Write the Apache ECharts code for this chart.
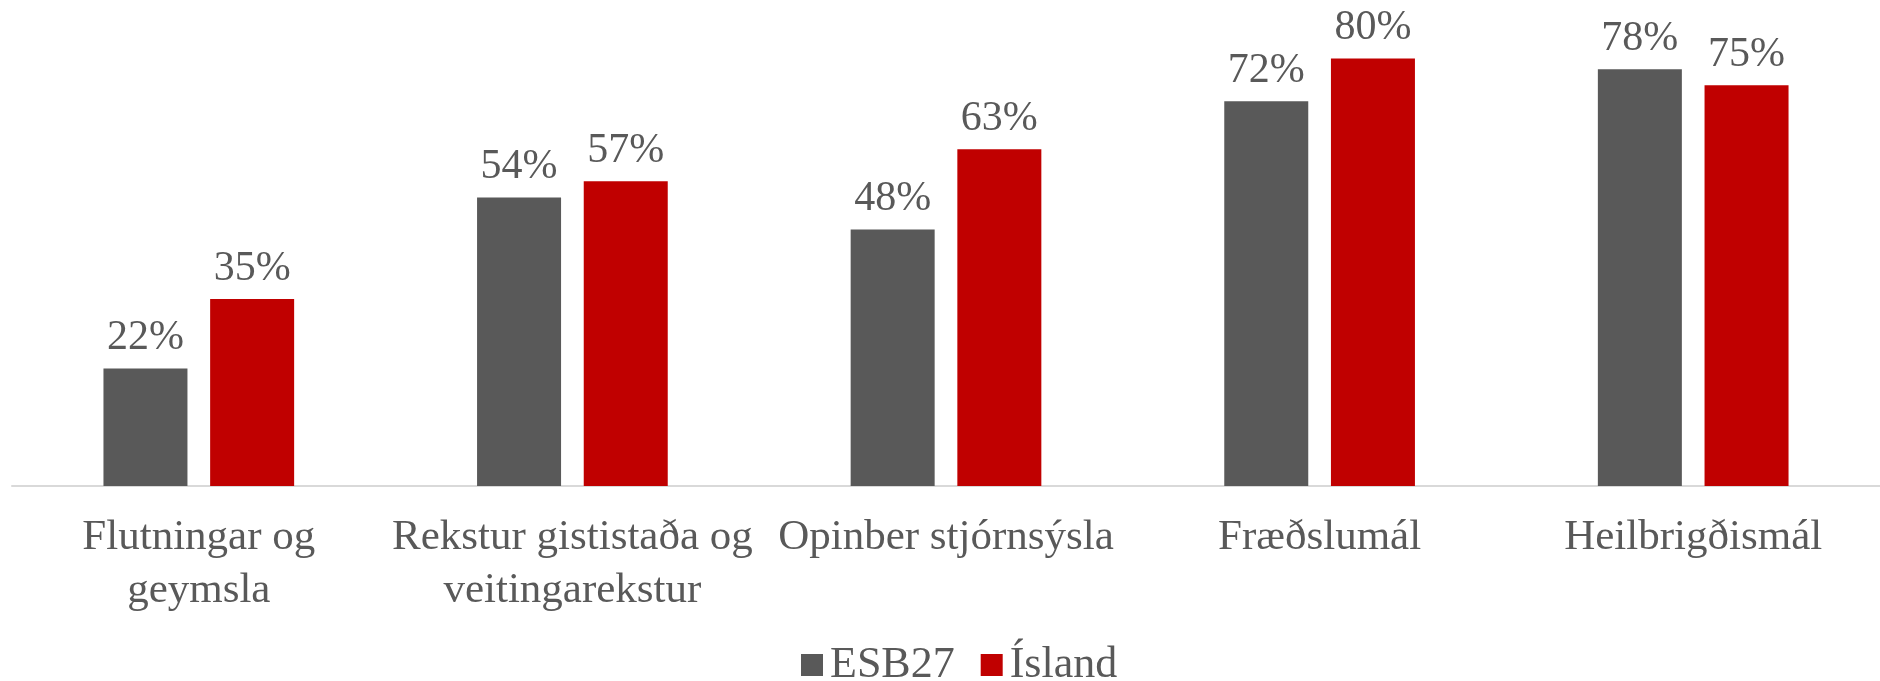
<!DOCTYPE html>
<html>
<head>
<meta charset="utf-8">
<script src="https://cdn.jsdelivr.net/npm/echarts@6/dist/echarts.min.js"></script>
<style>
  html, body { margin: 0; padding: 0; background: #fff; }
  #barChart { width: 1880px; height: 681px; }
</style>
</head>
<body>
<div id="barChart"></div>
<script>
var categories = ['Flutningar og\ngeymsla', 'Rekstur gististaða og\nveitingarekstur', 'Opinber stjórnsýsla', 'Fræðslumál', 'Heilbrigðismál'];
var seriesNames = ['ESB27', 'Ísland'];
var esbValues = [22, 54, 48, 72, 78];
var islandValues = [35, 57, 63, 80, 75];

var barChart = echarts.init(document.getElementById('barChart'));

var textColor = '#595959';
var fontFamily = '"Liberation Serif", "Times New Roman", serif';

var labelStyle = {
	show: true,
	position: 'top',
	distance: 9,
	formatter: '{c}%',
	color: textColor,
	fontFamily: fontFamily,
	fontSize: 42
};

var option = {
	animation: false,
	color: ['#595959', '#C00000'],
	grid: {
		left: 12,
		right: 0,
		top: 5,
		bottom: 195
	},
	legend: {
		data: seriesNames,
		left: 796,
		top: 638,
		icon: 'rect',
		itemWidth: 22,
		itemHeight: 22,
		itemGap: 26,
		textStyle: {
			color: textColor,
			fontFamily: fontFamily,
			fontSize: 44,
			padding: [0, 0, 0, 2]
		}
	},
	xAxis: {
		type: 'category',
		data: categories,
		axisTick: { show: false },
		axisLine: {
			lineStyle: { color: '#d9d9d9', width: 2 }
		},
		axisLabel: {
			interval: 0,
			margin: 25,
			color: textColor,
			fontFamily: fontFamily,
			fontSize: 43,
			lineHeight: 53,
			verticalAlign: 'top'
		}
	},
	yAxis: {
		type: 'value',
		min: 0,
		max: 90,
		show: false,
		splitLine: { show: false }
	},
	series: [
		{
			name: seriesNames[0],
			type: 'bar',
			barWidth: 84,
			barGap: '27%',
			data: esbValues,
			label: labelStyle
		},
		{
			name: seriesNames[1],
			type: 'bar',
			barWidth: 84,
			data: islandValues,
			label: labelStyle
		}
	]
};
barChart.setOption(option);
</script>
</body>
</html>
